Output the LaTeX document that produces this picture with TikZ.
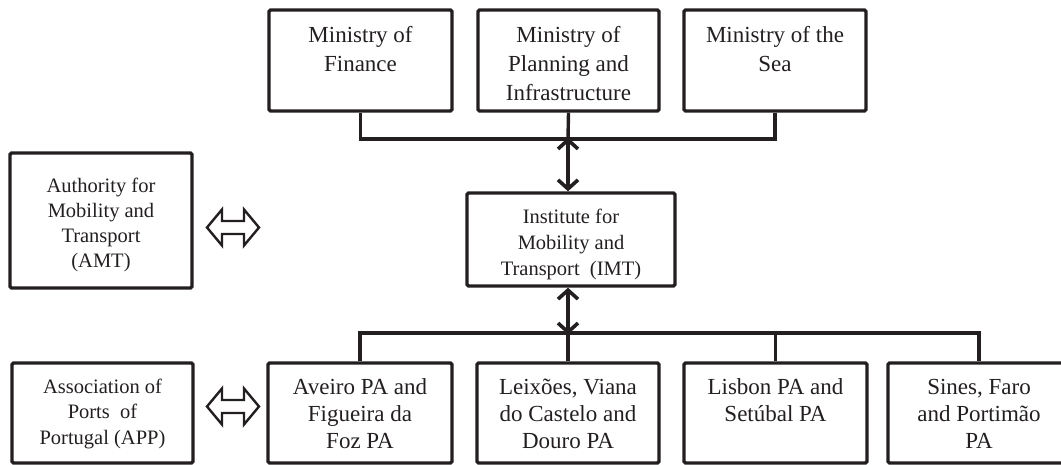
\documentclass[tikz,border=0pt]{standalone}
\usepackage{fontspec}
\setmainfont{Liberation Serif}
\usetikzlibrary{arrows.meta}
\definecolor{ink}{RGB}{35,31,32}
\newcommand{\boxtxt}[6]{\parbox[c][#2][t]{#1}{\fontsize{#4}{#5}\selectfont\centering\vspace*{#3}\strut #6\par}}
\begin{document}
\begin{tikzpicture}[x=1pt,y=-1pt,
  box/.style={draw=ink, text=ink, line width=3.4pt, inner sep=0pt, rounded corners=1.5pt},
  conn/.style={draw=ink, line width=3.4pt},
  dbl/.style={draw=ink, line width=3.6pt, {Straight Barb[length=9pt,width=20pt]}-{Straight Barb[length=9pt,width=20pt]}},
  hollow/.style={draw=ink, line width=2.4pt, line join=miter}]
\clip (0,0) rectangle (1061,464);
% top row
\node[box] (fin) at (360.5,60.5) {\boxtxt{183pt}{101pt}{12.9pt}{23}{28.7}{Ministry of\\Finance}};
\node[box] (plan) at (568.5,60.5) {\boxtxt{181pt}{101pt}{12.9pt}{23}{28.7}{Ministry of\\Planning and\\Infrastructure}};
\node[box] (sea) at (775,60.5) {\boxtxt{182pt}{101pt}{12.9pt}{23}{28.7}{Ministry of the\\Sea}};
\coordinate (tbus) at (568,139);
\draw[conn] (fin.south) -- (fin.south |- tbus) -- (sea.south |- tbus) -- (sea.south);
\draw[conn] (plan.south) -- (tbus);
% middle
\node[box] (imt) at (571,239.5) {\boxtxt{208pt}{93pt}{11.8pt}{20.5}{26}{Institute for\\Mobility and\\Transport\ \ (IMT)}};
\node[box] (amt) at (101,220.5) {\boxtxt{182pt}{135pt}{22pt}{20.5}{25}{Authority for\\Mobility and\\Transport\\(AMT)}};
\draw[dbl] ([yshift=1.5pt]tbus) -- (tbus |- imt.north);
% bottom row
\coordinate (bbus) at (568,333);
\draw[dbl] (imt.south -| bbus) -- ([yshift=-1.5pt]bbus);
\node[box] (ave) at (360,413) {\boxtxt{184pt}{100pt}{13.3pt}{23}{26.7}{Aveiro PA and\\Figueira da\\Foz PA}};
\node[box] (lei) at (568,413) {\boxtxt{182pt}{100pt}{13.3pt}{23}{26.7}{Leixões, Viana\\do Castelo and\\Douro PA}};
\node[box] (lis) at (775.5,413) {\boxtxt{183pt}{100pt}{13.3pt}{23}{26.7}{Lisbon PA and\\Setúbal PA}};
\node[box] (sin) at (979,413) {\boxtxt{182pt}{100pt}{13.3pt}{23}{26.7}{Sines, Faro\\and Portimão\\PA}};
\node[box] (app) at (102.5,413) {\boxtxt{181pt}{100pt}{12.2pt}{20.5}{25.5}{Association of\\Ports\ \ of\\Portugal (APP)}};
\draw[conn] (ave.north) -- (ave.north |- bbus) -- (sin.north |- bbus) -- (sin.north);
\draw[conn] (lei.north) -- (bbus);
\draw[conn] (lis.north) -- (lis.north |- bbus);
% hollow double arrows
\draw[hollow, shift={(233,227.5)}] (-26,0) -- (-11,-18) -- (-11,-6.5) -- (11,-6.5) -- (11,-18) -- (26,0) -- (11,18) -- (11,6.5) -- (-11,6.5) -- (-11,18) -- cycle;
\draw[hollow, shift={(233,406.5)}] (-26,0) -- (-11,-18) -- (-11,-6.5) -- (11,-6.5) -- (11,-18) -- (26,0) -- (11,18) -- (11,6.5) -- (-11,6.5) -- (-11,18) -- cycle;
\end{tikzpicture}
\end{document}
